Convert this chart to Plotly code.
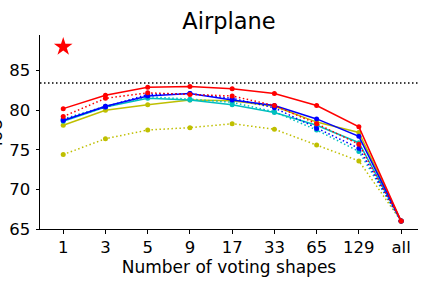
import plotly.graph_objects as go

categories = ["1", "3", "5", "9", "17", "33", "65", "129", "all"]

red_solid    = [80.2, 81.9, 82.9, 83.0, 82.7, 82.1, 80.6, 77.9, 66.0]
red_dotted   = [79.2, 81.5, 82.2, 82.0, 81.8, 80.6, 78.3, 75.7, 66.0]
blue_solid   = [78.7, 80.5, 81.8, 82.1, 81.3, 80.6, 78.9, 76.7, 66.0]
blue_dotted  = [78.8, 80.4, 82.0, 82.1, 81.5, 80.3, 77.7, 75.2, 66.0]
cyan_solid   = [78.6, 80.4, 81.5, 81.3, 80.7, 79.7, 78.1, 75.9, 66.0]
cyan_dotted  = [78.9, 80.5, 81.7, 81.4, 81.0, 79.8, 77.5, 74.8, 66.0]
yel_solid    = [78.1, 80.0, 80.7, 81.3, 81.2, 80.5, 78.5, 77.2, 66.0]
yel_dotted   = [74.4, 76.4, 77.5, 77.8, 78.3, 77.6, 75.6, 73.6, 66.0]

baseline = 83.45
star_x = "1"
star_y = 88.0

DOT = "1.5px,2.5px"

series = [
    (yel_dotted, "#bfbf00", DOT),
    (yel_solid, "#bfbf00", "solid"),
    (cyan_dotted, "#00bfbf", DOT),
    (cyan_solid, "#00bfbf", "solid"),
    (blue_dotted, "#0000ff", DOT),
    (blue_solid, "#0000ff", "solid"),
    (red_dotted, "#ff0000", DOT),
    (red_solid, "#ff0000", "solid"),
]

fig = go.Figure()
for vals, col, dash in series:
    fig.add_trace(go.Scatter(
        x=categories, y=vals, mode="lines+markers",
        line=dict(color=col, width=1.5, dash=dash),
        marker=dict(color=col, size=5),
        showlegend=False,
    ))

fig.add_trace(go.Scatter(
    x=[star_x], y=[star_y], mode="markers",
    marker=dict(symbol="star", color="#ff0000", size=14, line=dict(width=0)),
    showlegend=False,
))

fig.add_shape(type="line", xref="paper", x0=0, x1=1, yref="y", y0=baseline, y1=baseline,
              line=dict(color="black", width=1.5, dash=DOT))

font = "DejaVu Sans"
fig.update_layout(
    width=432, height=288,
    margin=dict(l=40, r=14, t=35, b=58.5, autoexpand=False),
    paper_bgcolor="white", plot_bgcolor="white",
    title=dict(text="Airplane", x=0.53, xanchor="center", y=0.925, yanchor="middle",
               font=dict(family=font, size=22.5, color="black")),
    font=dict(family=font, color="black"),
    xaxis=dict(
        type="category", categoryorder="array", categoryarray=categories,
        range=[-0.55, 8.4], showgrid=False, zeroline=False, automargin=False,
        showline=True, linecolor="black", linewidth=1,
        ticks="outside", ticklen=3.5, tickcolor="black",
        tickfont=dict(family=font, size=16.5),
        title=dict(text="Number of voting shapes", font=dict(family=font, size=17), standoff=3),
    ),
    yaxis=dict(
        range=[65, 89.5], showgrid=False, zeroline=False, automargin=False,
        showline=True, linecolor="black", linewidth=1,
        ticks="outside", ticklen=3.5, tickcolor="black",
        tickvals=[65, 70, 75, 80, 85],
        tickfont=dict(family=font, size=16.5),
        ticklabelstandoff=2,
    ),
    annotations=[dict(
        text="IoU", textangle=-90, xref="paper", yref="paper",
        x=-0.116, y=0.5, xanchor="center", yanchor="middle", showarrow=False,
        font=dict(family=font, size=17, color="black"),
    )],
)

fig.write_html("out.html", config={"displayModeBar": False},
               post_script="document.body.style.margin='0';")
